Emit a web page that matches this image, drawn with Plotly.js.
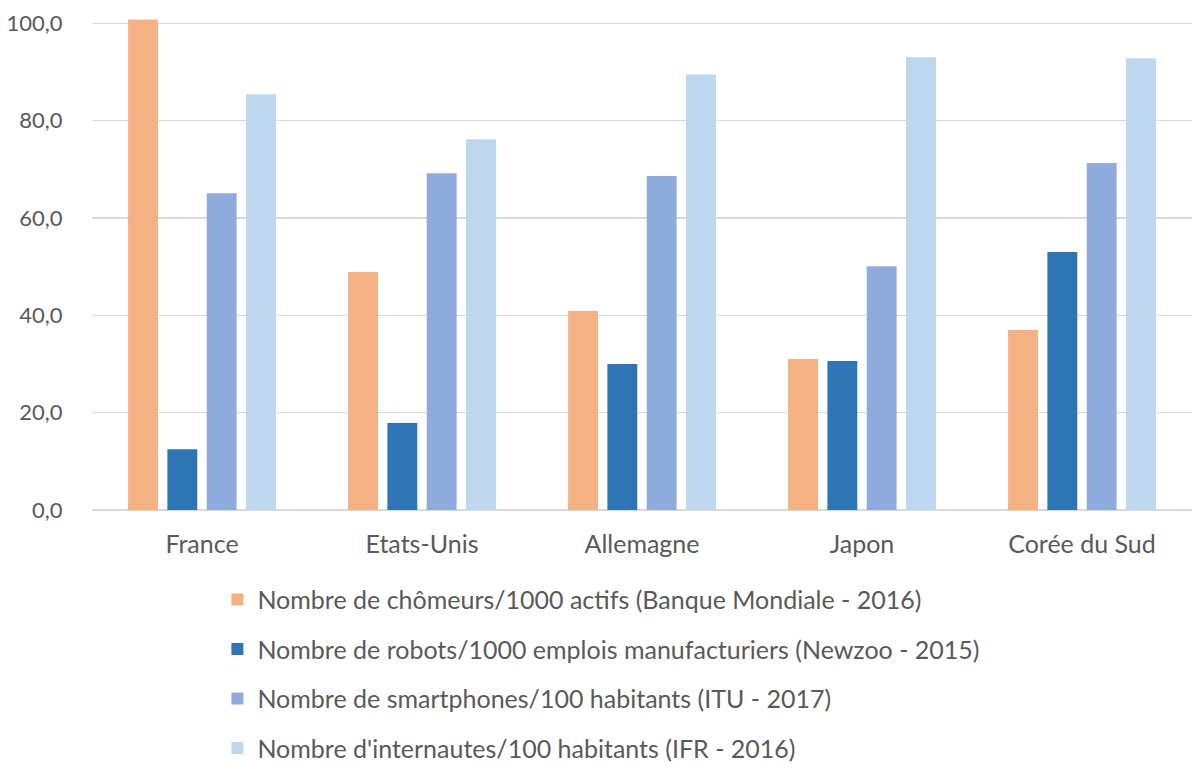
<!DOCTYPE html>
<html>
<head>
<meta charset="utf-8">
<script src="https://cdn.plot.ly/plotly-3.0.1.min.js"></script>
<style>html,body{margin:0;padding:0;background:#fff;}#chart{width:1200px;height:781px;}</style>
</head>
<body>
<div id="chart"></div>
<script>
const countries = ["France", "Etats-Unis", "Allemagne", "Japon", "Corée du Sud"];
const seriesNames = [
  "Nombre de chômeurs/1000 actifs (Banque Mondiale - 2016)",
  "Nombre de robots/1000 emplois manufacturiers (Newzoo - 2015)",
  "Nombre de smartphones/100 habitants (ITU - 2017)",
  "Nombre d'internautes/100 habitants (IFR - 2016)"
];
const chomeurs = [100.8, 48.9, 40.9, 31.0, 37.0];
const robots = [12.5, 17.9, 30.0, 30.6, 53.0];
const smartphones = [65.1, 69.2, 68.6, 50.1, 71.3];
const internautes = [85.4, 76.2, 89.5, 93.0, 92.8];
const colors = ["#f4b183", "#2e75b6", "#8faadc", "#bdd7ee"];
const yTicks = [0, 20, 40, 60, 80, 100];

const values = [chomeurs, robots, smartphones, internautes];
const traces = values.map((v, i) => ({
  type: "bar",
  name: seriesNames[i],
  x: countries,
  y: v,
  marker: {color: colors[i]},
  legendgroup: "g" + i,
  hoverinfo: "y"
}));

const layout = {
  width: 1200, height: 781,
  paper_bgcolor: "#ffffff", plot_bgcolor: "#ffffff",
  margin: {l: 92, r: 8, t: 16, b: 271},
  font: {family: "Lato, 'Open Sans', sans-serif", color: "#595959", size: 24},
  separators: ",.",
  barmode: "group",
  bargap: 0.285,
  bargroupgap: 0.24,
  showlegend: true,
  legend: {
    orientation: "v",
    x: 0.114, xanchor: "left",
    y: -0.135, yanchor: "top",
    traceorder: "grouped",
    tracegroupgap: 14,
    font: {size: 25, color: "#595959"},
    bgcolor: "rgba(0,0,0,0)"
  },
  xaxis: {
    type: "category",
    showgrid: false, zeroline: false, showline: false,
    ticks: "outside", ticklen: 12, tickcolor: "rgba(0,0,0,0)",
    tickfont: {size: 25, color: "#595959"}
  },
  yaxis: {
    range: [0, 101.5],
    tickvals: yTicks,
    tickformat: ".1f",
    showgrid: true, gridcolor: "#d9d9d9", gridwidth: 1.5,
    zeroline: true, zerolinecolor: "#d9d9d9", zerolinewidth: 1.5,
    showline: false,
    ticks: "outside", ticklen: 24, tickcolor: "rgba(0,0,0,0)",
    tickfont: {size: 22, color: "#595959"}
  }
};

Plotly.newPlot("chart", traces, layout, {displayModeBar: false, staticPlot: true});
</script>
</body>
</html>
